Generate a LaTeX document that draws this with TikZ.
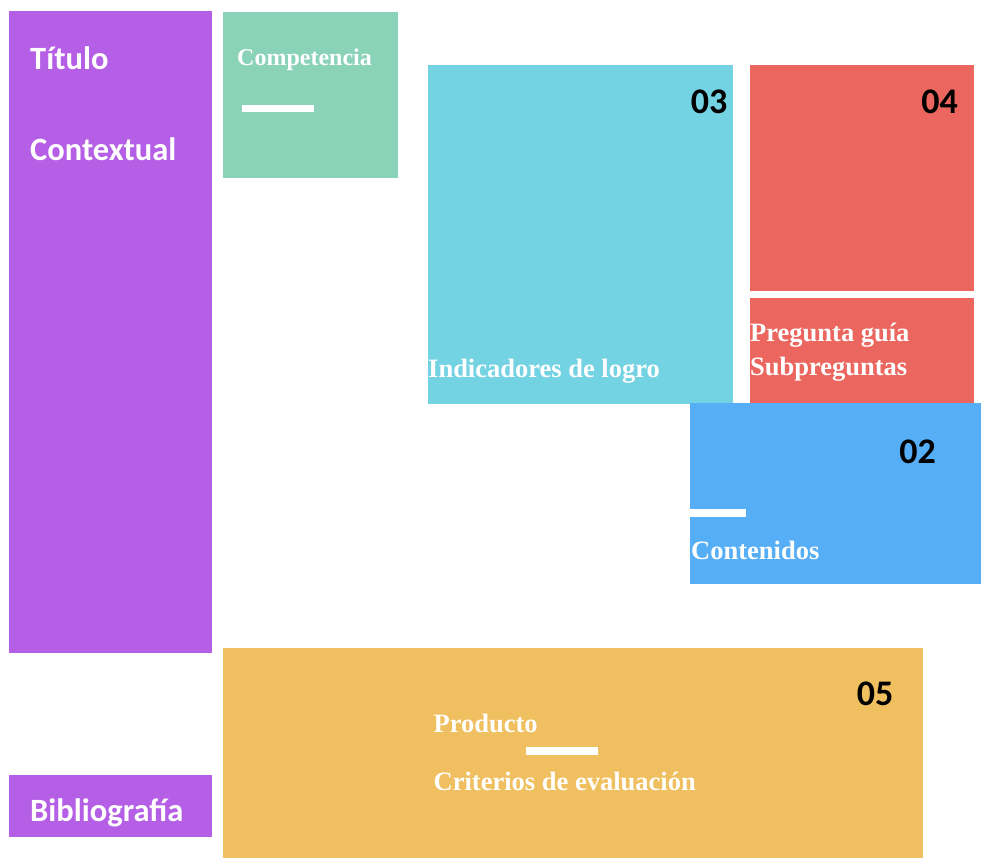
\documentclass[tikz,border=0pt]{standalone}
\usepackage{fontspec}
\setmainfont{Carlito}
\newfontfamily\tnr{Liberation Serif}
\definecolor{cpurple}{HTML}{B45FE5}
\definecolor{cgreen}{HTML}{8AD3B9}
\definecolor{ccyan}{HTML}{73D3E2}
\definecolor{cred}{HTML}{EB665F}
\definecolor{cblue}{HTML}{56AEF7}
\definecolor{corange}{HTML}{F0BF5F}
\tikzset{
  box/.style={draw=none, inner sep=0pt, outer sep=0pt, anchor=north west},
  bar/.style={fill=white, draw=none, inner sep=0pt, outer sep=0pt, anchor=north west},
  sanslabel/.style={inner sep=0pt, anchor=base west, text=white, font=\fontsize{32.5}{36}\selectfont\bfseries},
  numlabel/.style={inner sep=0pt, anchor=base east, text=black, font=\fontsize{36}{40}\selectfont\bfseries},
  seriflabel/.style={inner sep=0pt, anchor=base west, text=white, font=\tnr\fontsize{26.5}{30}\selectfont\bfseries},
}
\begin{document}
\begin{tikzpicture}[x=1pt, y=-1pt]
\useasboundingbox (0,0) rectangle (981,858);
% boxes
\node[box, fill=cpurple, minimum width=203pt, minimum height=642pt] (titulo) at (9,11) {};
\node[box, fill=cpurple, minimum width=203pt, minimum height=62pt] (biblio) at (9,775) {};
\node[box, fill=cgreen, minimum width=175pt, minimum height=166pt] (comp) at (223,12) {};
\node[box, fill=ccyan, minimum width=305pt, minimum height=339pt] (indic) at (428,65) {};
\node[box, fill=cred, minimum width=224pt, minimum height=226pt] (red1) at (750,65) {};
\node[box, fill=cred, minimum width=224pt, minimum height=105pt] (red2) at (750,298) {};
\node[box, fill=cblue, minimum width=291pt, minimum height=181pt] (cont) at (690,403) {};
\node[box, fill=corange, minimum width=700pt, minimum height=210pt] (prod) at (223,648) {};
% white bars
\node[bar, minimum width=72pt, minimum height=7.5pt] (gbar) at (242,105) {};
\node[bar, minimum width=56pt, minimum height=8pt] (bbar) at (690,509) {};
\node[bar, minimum width=72pt, minimum height=8pt] (obar) at (526,747) {};
% sans labels
\node[sanslabel] (t1) at (30,69.5) {Título};
\node[sanslabel] (t2) at (30,160.5) {Contextual};
\node[sanslabel] (t3) at (30,821.5) {Bibliografía};
% numbers
\node[numlabel] (n03) at (727.5,114) {03};
\node[numlabel] (n04) at (958,114) {04};
\node[numlabel] (n02) at (936,463) {02};
\node[numlabel] (n05) at (893.5,705) {05};
% serif labels
\node[seriflabel, font=\tnr\fontsize{24}{28}\selectfont\bfseries] (s1) at (237,66) {Competencia};
\node[seriflabel] (s2) at (428,377) {Indicadores de logro};
\node[seriflabel] (s3) at (750,341.5) {Pregunta guía};
\node[seriflabel] (s4) at (750,375.5) {Subpreguntas};
\node[seriflabel] (s5) at (691,559) {Contenidos};
\node[seriflabel] (s6) at (433.5,732) {Producto};
\node[seriflabel] (s7) at (433.5,790.5) {Criterios de evaluación};
\end{tikzpicture}
\end{document}
